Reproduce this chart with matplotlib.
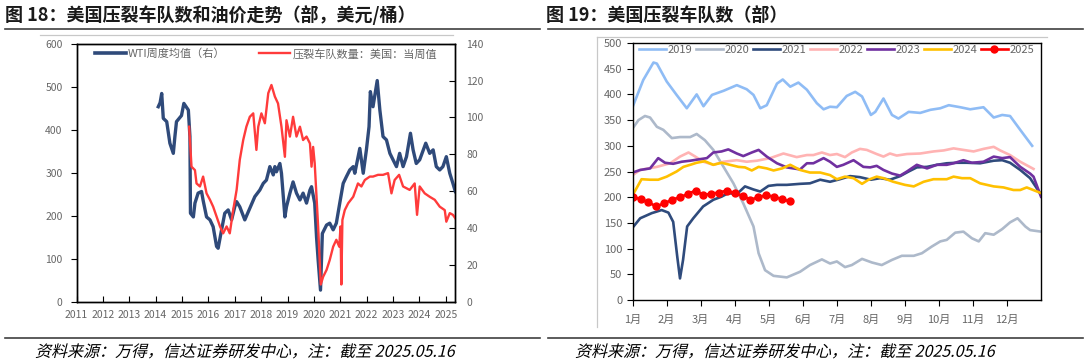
import numpy as np
import matplotlib
matplotlib.use("Agg")
import matplotlib.pyplot as plt
from matplotlib.lines import Line2D
from matplotlib.textpath import TextPath
from matplotlib.patches import PathPatch
from matplotlib.font_manager import FontProperties
from matplotlib.transforms import Affine2D

plt.rcParams['font.family'] = ['Noto Sans CJK SC', 'DejaVu Sans']
plt.rcParams['axes.unicode_minus'] = False

# ---- left chart: WTI weekly average (right axis) and US frac spread count (left axis)
wti_t = [2014.10, 2014.17, 2014.23, 2014.29, 2014.42, 2014.54, 2014.67, 2014.73, 2014.79, 2014.98,
         2015.07, 2015.24, 2015.30, 2015.32, 2015.43, 2015.49, 2015.61, 2015.74, 2015.80, 2015.93,
         2016.06, 2016.18, 2016.31, 2016.37, 2016.50, 2016.62, 2016.75, 2016.88, 2017.00, 2017.07,
         2017.19, 2017.38, 2017.57, 2017.76, 2017.95, 2018.08, 2018.20, 2018.33, 2018.46, 2018.52,
         2018.58, 2018.71, 2018.77, 2018.90, 2018.96, 2019.09, 2019.21, 2019.34, 2019.47, 2019.59,
         2019.72, 2019.85, 2019.91, 2020.03, 2020.10, 2020.16, 2020.25, 2020.32, 2020.48, 2020.60,
         2020.73, 2020.85, 2020.98, 2021.11, 2021.23, 2021.36, 2021.49, 2021.55, 2021.74, 2021.87,
         2021.99, 2022.09, 2022.14, 2022.24, 2022.40, 2022.50, 2022.62, 2022.75, 2022.88, 2023.00,
         2023.13, 2023.25, 2023.38, 2023.51, 2023.66, 2023.76, 2023.88, 2024.01, 2024.24, 2024.39,
         2024.52, 2024.64, 2024.77, 2024.89, 2025.02, 2025.15, 2025.27, 2025.36]
wti_v = [105.8, 108, 113, 99.5, 97.7, 86, 80.5, 89.6, 97.7, 101,
         107.6, 104, 89.6, 48, 46, 53.5, 58.9, 59.8, 55, 46,
         44.4, 40.7, 30, 29, 39, 48, 49.8, 44.4, 51.5, 54.3,
         51.5, 44.4, 50.7, 57, 60.6, 64.2, 66, 73.3, 68.8, 73.3,
         70.5, 75, 69.7, 46, 51.5, 58.9, 65, 58.9, 55.2, 58.9,
         53.5, 60.6, 62.4, 53.5, 35, 22.7, 6.3, 37, 41.6, 42.6,
         39, 42.6, 53.5, 64.2, 67.8, 71.5, 73.3, 69.7, 83.2, 69.7,
         82.4, 95, 114, 105.8, 120, 104, 89.6, 87.8, 80.5, 77,
         73.3, 80.5, 73.3, 78.7, 91.4, 82.4, 75, 77, 86, 80.5,
         82.4, 73.3, 71.5, 73.3, 78.7, 69.7, 64.2, 59.8]

frac_t = [2015.27, 2015.30, 2015.36, 2015.49, 2015.55, 2015.68, 2015.80, 2015.93, 2016.06, 2016.18,
          2016.31, 2016.44, 2016.56, 2016.69, 2016.81, 2016.94, 2017.07, 2017.19, 2017.32, 2017.44,
          2017.57, 2017.70, 2017.82, 2017.89, 2018.01, 2018.14, 2018.27, 2018.39, 2018.52, 2018.64,
          2018.77, 2018.90, 2018.96, 2019.09, 2019.21, 2019.34, 2019.47, 2019.59, 2019.72, 2019.85,
          2019.91, 2019.97, 2020.03, 2020.16, 2020.26, 2020.35, 2020.48, 2020.60, 2020.73, 2020.85,
          2020.96, 2021.01, 2021.04, 2021.08, 2021.17, 2021.30, 2021.49, 2021.67, 2021.80, 2021.93,
          2022.12, 2022.24, 2022.43, 2022.62, 2022.81, 2022.94, 2023.06, 2023.23, 2023.38, 2023.63,
          2023.82, 2023.91, 2024.01, 2024.20, 2024.39, 2024.58, 2024.77, 2024.96, 2025.02, 2025.15,
          2025.27, 2025.36]
frac_v = [407, 376, 314, 306, 275, 268, 291, 252, 237, 221,
          198, 175, 159, 175, 159, 213, 260, 330, 376, 407,
          430, 438, 353, 407, 438, 415, 485, 504, 477, 461,
          407, 337, 422, 384, 430, 384, 407, 376, 384, 368,
          314, 360, 322, 175, 40, 58, 74, 97, 128, 144,
          128, 175, 40, 190, 213, 229, 244, 275, 268, 283,
          291, 291, 295, 295, 299, 252, 283, 295, 268, 260,
          275, 202, 268, 252, 244, 237, 221, 213, 186, 206,
          202, 194]

years = list(range(2011, 2026))

# ---- right chart: frac spread count by year (x in months from Jan 1)
m19 = [0, 0.31, 0.61, 0.71, 1.0, 1.29, 1.59, 1.88, 2.08, 2.33, 2.67, 3.06, 3.35, 3.55, 3.75, 3.94,
       4.24, 4.41, 4.63, 4.87, 5.12, 5.41, 5.61, 5.80, 6.0, 6.29, 6.54, 6.74, 7.0, 7.13, 7.37, 7.62,
       7.81, 8.11, 8.45, 8.75, 9.04, 9.29, 9.63, 9.92, 10.31, 10.61, 10.86, 11.09, 11.39, 11.74]
v19 = [376, 428, 462, 460, 425, 399, 373, 400, 377, 399, 407, 418, 410, 399, 373, 379,
       421, 429, 415, 423, 409, 383, 371, 376, 375, 397, 405, 396, 360, 366, 392, 360,
       353, 366, 364, 370, 373, 379, 375, 371, 375, 355, 360, 358, 331, 300]

m20 = [0, 0.17, 0.36, 0.51, 0.71, 0.90, 1.15, 1.39, 1.69, 1.88, 2.12, 2.37, 2.67, 2.96, 3.25, 3.55,
       3.70, 3.89, 4.14, 4.53, 4.92, 5.21, 5.56, 5.80, 6.0, 6.24, 6.44, 6.74, 7.03, 7.32, 7.62, 7.91,
       8.26, 8.50, 8.79, 9.04, 9.23, 9.48, 9.72, 9.97, 10.17, 10.36, 10.61, 10.86, 11.09, 11.31, 11.54,
       11.68, 12.0]
v20 = [334, 350, 358, 355, 337, 331, 315, 317, 317, 323, 311, 292, 259, 227, 188, 143,
       91, 58, 47, 44, 55, 68, 79, 71, 75, 64, 68, 80, 73, 68, 78, 86,
       86, 91, 104, 114, 117, 131, 133, 120, 114, 130, 127, 138, 151, 159, 143,
       136, 133]

m21 = [0, 0.22, 0.56, 0.85, 1.05, 1.19, 1.31, 1.39, 1.48, 1.60, 1.78, 2.07, 2.37, 2.61, 2.81, 3.06,
       3.30, 3.55, 3.75, 3.99, 4.24, 4.53, 4.92, 5.21, 5.51, 5.80, 6.09, 6.39, 6.68, 7.0, 7.27, 7.56,
       7.86, 8.11, 8.35, 8.65, 8.94, 9.23, 9.53, 9.82, 10.21, 10.61, 10.86, 11.09, 11.39, 11.68, 12.0]
v21 = [141, 159, 169, 175, 170, 152, 84, 42, 78, 143, 159, 182, 195, 201, 208, 206,
       221, 215, 211, 222, 224, 224, 226, 227, 234, 230, 235, 241, 239, 234, 237, 234,
       241, 250, 258, 259, 263, 266, 267, 267, 266, 271, 272, 267, 253, 237, 205]

m22 = [0, 0.22, 0.71, 1.1, 1.39, 1.64, 1.84, 2.08, 2.37, 2.67, 3.06, 3.35, 3.65, 4.04, 4.43, 4.82,
       5.12, 5.31, 5.56, 5.80, 6.0, 6.24, 6.44, 6.68, 6.88, 7.17, 7.37, 7.56, 7.76, 8.06, 8.45, 8.84,
       9.14, 9.43, 9.72, 10.02, 10.31, 10.61, 10.80, 11.09, 11.39, 11.78]
v22 = [243, 253, 259, 266, 279, 287, 279, 269, 263, 269, 272, 269, 271, 276, 285, 278,
       282, 282, 287, 282, 284, 278, 287, 294, 292, 284, 279, 285, 281, 284, 285, 289,
       291, 295, 292, 289, 294, 298, 291, 282, 269, 255]

m23 = [0, 0.22, 0.51, 0.75, 0.95, 1.19, 1.44, 1.69, 1.98, 2.18, 2.37, 2.61, 2.81, 3.06, 3.25, 3.50,
       3.70, 3.94, 4.24, 4.53, 4.92, 5.12, 5.31, 5.61, 5.80, 6.0, 6.19, 6.49, 6.78, 6.98, 7.17, 7.37,
       7.62, 7.86, 8.06, 8.35, 8.65, 8.94, 9.23, 9.43, 9.72, 9.97, 10.31, 10.61, 10.86, 11.09, 11.39,
       11.68, 11.78, 12.0]
v23 = [248, 253, 256, 276, 267, 265, 269, 271, 274, 276, 287, 289, 293, 285, 280, 287,
       292, 279, 266, 258, 254, 266, 266, 276, 269, 259, 263, 272, 259, 258, 261, 253,
       246, 242, 250, 263, 256, 263, 263, 266, 272, 267, 269, 279, 276, 278, 259,
       246, 240, 201]

m24 = [0, 0.26, 0.51, 0.75, 1.0, 1.29, 1.49, 1.69, 1.88, 2.12, 2.37, 2.61, 2.86, 3.11, 3.30, 3.50,
       3.70, 3.94, 4.14, 4.39, 4.63, 4.92, 5.21, 5.51, 5.80, 6.0, 6.24, 6.49, 6.74, 6.93, 7.17, 7.37,
       7.66, 8.0, 8.26, 8.55, 8.84, 9.23, 9.43, 9.68, 9.92, 10.21, 10.61, 10.90, 11.19, 11.39, 11.58, 12.0]
v24 = [204, 235, 234, 234, 240, 250, 259, 263, 267, 270, 263, 267, 263, 259, 258, 252,
       259, 256, 252, 256, 263, 253, 248, 248, 243, 235, 240, 237, 226, 234, 240, 237,
       230, 224, 221, 230, 235, 235, 240, 237, 237, 227, 221, 219, 214, 214, 219, 208]

# 2025 is weekly, first 21 weeks
v25 = [201, 196, 190, 182, 188, 195, 200, 206, 213, 204, 207, 209, 213, 208, 203, 195, 200, 204, 201, 196, 192]
w25 = np.arange(len(v25)) * 12 / 52

months = [f"{i}月" for i in range(1, 13)]

W, H = 1088, 363
fig = plt.figure(figsize=(W / 100, H / 100), dpi=100)


def px(x0, y0, x1, y1):
    # pixel box (left, top, right, bottom) -> figure rect
    return [x0 / W, 1 - y1 / H, (x1 - x0) / W, (y1 - y0) / H]


def hline(x0, x1, y, color, lw):
    fig.add_artist(Line2D([x0 / W, x1 / W], [1 - y / H, 1 - y / H], color=color, lw=lw,
                          transform=fig.transFigure))


def vline(x, y0, y1, color, lw):
    fig.add_artist(Line2D([x / W, x / W], [1 - y0 / H, 1 - y1 / H], color=color, lw=lw,
                          transform=fig.transFigure))


def slanted(x, y_mid, s, size_px):
    # italic-looking text: text path sheared, placed in pixel coords
    fp = FontProperties(family='Noto Sans CJK SC')
    tp = TextPath((0, 0), s, size=size_px, prop=fp)
    base = H - y_mid - 0.36 * size_px
    tr = Affine2D().skew_deg(14, 0).translate(x, base)
    fig.add_artist(PathPatch(tp, transform=tr, facecolor='black', edgecolor='none'))


tick_color = '#666666'
navy = '#2f4a7a'
red = '#ff3b3b'

# ---------------- left chart
ax = fig.add_axes(px(76.5, 43.7, 455.3, 301.7))
ax2 = ax.twinx()
ax.plot([], [], color=navy, lw=2.6, label='WTI周度均值（右）')
ax.plot(frac_t, frac_v, color=red, lw=1.7, label='压裂车队数量：美国：当周值')
ax2.plot(wti_t, wti_v, color=navy, lw=2.4)
ax.set_zorder(ax2.get_zorder() + 1)
ax.patch.set_visible(False)
ax.set_xlim(2011, 2025.36)
ax.set_ylim(0, 600)
ax2.set_ylim(0, 140)
ax.set_yticks(range(0, 601, 100))
ax2.set_yticks(range(0, 141, 20))
ax.set_xticks(years)
ax.set_xticklabels([str(y) for y in years])
ax.tick_params(axis='x', direction='in', length=4, color='black', labelsize=7.5,
               labelcolor=tick_color, pad=6)
ax.tick_params(axis='y', direction='out', length=4, color='black', labelsize=7.5,
               labelcolor=tick_color, pad=6)
ax2.tick_params(axis='y', direction='in', length=4, color='black', labelsize=7.5,
                labelcolor=tick_color, pad=8)
for a in (ax, ax2):
    for s in a.spines.values():
        s.set_color('black')
        s.set_linewidth(1.0)
ax.legend(loc='upper center', ncol=2, frameon=False, fontsize=8, labelcolor=tick_color,
          handlelength=2.8, columnspacing=3.0, bbox_to_anchor=(0.5, 1.02), handletextpad=0.2)

# ---------------- right chart
bx = fig.add_axes(px(632.7, 43, 1041, 300))
series = [(m19, v19, '#8fbcf5', '2019'), (m20, v20, '#adb9ca', '2020'),
          (m21, v21, '#2f4b7c', '2021'), (m22, v22, '#ffb3b3', '2022'),
          (m23, v23, '#7030a0', '2023'), (m24, v24, '#ffc000', '2024')]
for m, v, c, lab in series:
    bx.plot(m, v, color=c, lw=1.9, label=lab)
bx.plot(w25, v25, color='#ff0000', lw=1.9, marker='o', markersize=5, label='2025')
bx.set_xlim(0, 12)
bx.set_ylim(0, 500)
bx.set_yticks(range(0, 501, 50))
bx.set_xticks(range(12))
bx.set_xticklabels(months)
bx.tick_params(axis='both', direction='out', length=4, color='black', labelsize=8,
               labelcolor=tick_color)
bx.tick_params(axis='x', pad=7)
for s in bx.spines.values():
    s.set_color('black')
    s.set_linewidth(1.0)
bx.legend(loc='upper center', ncol=7, frameon=False, fontsize=8, labelcolor=tick_color,
          handlelength=2.4, columnspacing=0.3, handletextpad=0.2, bbox_to_anchor=(0.5, 1.03))

# ---------------- titles, rules, footers
fig.text(5 / W, 1 - 15 / H, '图 18：美国压裂车队数和油价走势（部，美元/桶）', fontsize=13,
         fontweight='bold', color='#1a1a1a', va='center', ha='left')
fig.text(546 / W, 1 - 15 / H, '图 19：美国压裂车队数（部）', fontsize=13,
         fontweight='bold', color='#1a1a1a', va='center', ha='left')
hline(5, 540, 29, '#404040', 1.2)
hline(548, 1083, 29, '#404040', 1.2)
hline(40, 453, 35, '#c8c8c8', 0.9)
hline(597, 1047, 37, '#c8c8c8', 0.9)
vline(597, 37, 327, '#c8c8c8', 0.9)
hline(5, 540, 338, '#404040', 1.2)
hline(548, 1083, 338, '#404040', 1.2)
foot = '资料来源：万得，信达证券研发中心，注：截至 2025.05.16'
slanted(35, 351, foot, 16)
slanted(575, 351, foot, 16)

fig.savefig('out.png', dpi=100)
